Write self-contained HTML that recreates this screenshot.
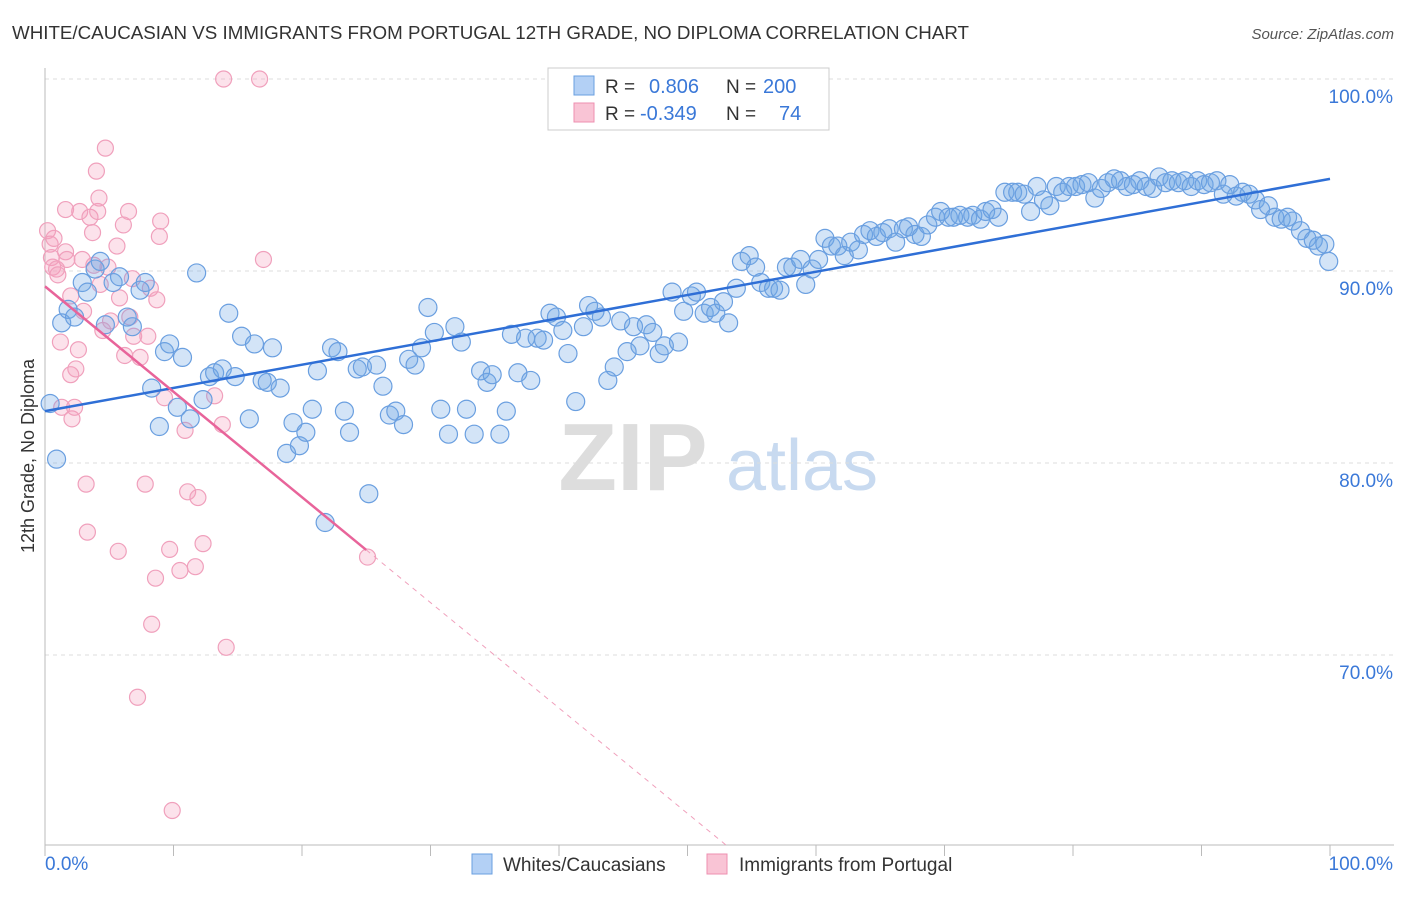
<!DOCTYPE html>
<html><head><meta charset="utf-8"><style>
body{margin:0;background:#fff;font-family:"Liberation Sans",sans-serif;}
svg text{font-family:"Liberation Sans",sans-serif;}
</style></head><body>
<svg id="chart" width="1406" height="892" xmlns="http://www.w3.org/2000/svg">
<text x="12" y="39" font-size="18" fill="#333" textLength="957" lengthAdjust="spacingAndGlyphs">WHITE/CAUCASIAN VS IMMIGRANTS FROM PORTUGAL 12TH GRADE, NO DIPLOMA CORRELATION CHART</text>
<text x="1394" y="39" font-size="15" fill="#555" text-anchor="end" font-style="italic">Source: ZipAtlas.com</text>
<text transform="translate(34,456) rotate(-90)" font-size="18" fill="#333" text-anchor="middle">12th Grade, No Diploma</text>
<g>
<text x="633" y="490" font-size="96" fill="#ddd" text-anchor="middle" font-family="Liberation Serif" font-weight="bold">ZIP</text>
<text x="802" y="490" font-size="72" fill="#c8daf0" text-anchor="middle">atlas</text>
</g>
<g id="grid"></g><g id="axes"></g><g id="pts"></g><g id="trend"></g>
<g>
<rect x="548" y="68" width="281" height="62" fill="#fff" stroke="#ccc"/>
<rect x="574" y="76" width="20" height="19" fill="#b3d0f5" stroke="#6a9fe0"/>
<rect x="574" y="103" width="20" height="19" fill="#f9c4d5" stroke="#ee8fb0"/>
<text x="605" y="93" font-size="19" fill="#333">R = </text><text x="649" y="93" font-size="20" fill="#3a78d8">0.806</text>
<text x="726" y="93" font-size="19" fill="#333">N = </text><text x="763" y="93" font-size="20" fill="#3a78d8">200</text>
<text x="605" y="120" font-size="19" fill="#333">R = </text><text x="640" y="120" font-size="20" fill="#3a78d8">-0.349</text>
<text x="726" y="120" font-size="19" fill="#333">N = </text><text x="779" y="120" font-size="20" fill="#3a78d8">74</text>
</g>
<g>
<rect x="472" y="854" width="20" height="20" fill="#b3d0f5" stroke="#6a9fe0"/>
<text x="503" y="871" font-size="19" fill="#333">Whites/Caucasians</text>
<rect x="707" y="854" width="20" height="20" fill="#f9c4d5" stroke="#ee8fb0"/>
<text x="739" y="871" font-size="19" fill="#333">Immigrants from Portugal</text>
</g>
</svg>
<script>
const blueX=[0.4,0.9,1.3,1.8,2.3,2.9,3.3,3.9,4.3,4.7,5.3,5.8,6.4,6.8,7.4,7.8,8.3,8.9,9.3,9.7,10.3,10.7,11.3,11.8,12.3,12.8,13.2,13.8,14.3,14.8,15.3,15.9,16.3,16.9,17.3,17.7,18.3,18.8,19.3,19.8,20.3,20.8,21.2,21.8,22.3,22.8,23.3,23.7,24.3,24.7,25.2,25.8,26.3,26.8,27.3,27.9,28.3,28.8,29.3,29.8,30.3,30.8,31.4,31.9,32.4,32.8,33.4,33.9,34.4,34.8,35.4,35.9,36.3,36.8,37.4,37.8,38.3,38.8,39.3,39.8,40.3,40.7,41.3,41.9,42.3,42.8,43.3,43.8,44.3,44.8,45.3,45.8,46.3,46.8,47.3,47.8,48.2,48.8,49.3,49.7,50.3,50.7,51.3,51.8,52.2,52.8,53.2,53.8,54.2,54.8,55.3,55.7,56.3,56.7,57.2,57.7,58.2,58.8,59.2,59.7,60.2,60.7,61.2,61.7,62.2,62.7,63.3,63.7,64.2,64.7,65.2,65.7,66.2,66.8,67.2,67.7,68.2,68.7,69.3,69.7,70.3,70.7,71.2,71.8,72.2,72.8,73.2,73.7,74.2,74.7,75.3,75.7,76.2,76.7,77.2,77.7,78.2,78.7,79.2,79.7,80.2,80.7,81.2,81.7,82.2,82.7,83.2,83.7,84.2,84.7,85.2,85.7,86.2,86.7,87.2,87.7,88.2,88.7,89.2,89.7,90.2,90.7,91.2,91.7,92.2,92.7,93.2,93.7,94.2,94.6,95.2,95.7,96.2,96.7,97.1,97.7,98.2,98.7,99.1,99.6,99.9];
const blueY=[83.1,80.2,87.3,88.0,87.6,89.4,88.9,90.1,90.5,87.2,89.4,89.7,87.6,87.1,89.0,89.4,83.9,81.9,85.8,86.2,82.9,85.5,82.3,89.9,83.3,84.5,84.7,84.9,87.8,84.5,86.6,82.3,86.2,84.3,84.2,86.0,83.9,80.5,82.1,80.9,81.6,82.8,84.8,76.9,86.0,85.8,82.7,81.6,84.9,85.0,78.4,85.1,84.0,82.5,82.7,82.0,85.4,85.1,86.0,88.1,86.8,82.8,81.5,87.1,86.3,82.8,81.5,84.8,84.2,84.6,81.5,82.7,86.7,84.7,86.5,84.3,86.5,86.4,87.8,87.6,86.9,85.7,83.2,87.1,88.2,87.9,87.6,84.3,85.0,87.4,85.8,87.1,86.1,87.2,86.8,85.7,86.1,88.9,86.3,87.9,88.7,88.9,87.8,88.1,87.8,88.4,87.3,89.1,90.5,90.8,90.2,89.4,89.1,89.1,89.0,90.2,90.2,90.6,89.3,90.1,90.6,91.7,91.3,91.3,90.8,91.5,91.1,91.9,92.1,91.8,92.0,92.2,91.5,92.2,92.3,91.9,91.8,92.4,92.8,93.1,92.8,92.8,92.9,92.8,92.9,92.7,93.1,93.2,92.8,94.1,94.1,94.1,94.0,93.1,94.4,93.7,93.4,94.4,94.1,94.4,94.4,94.5,94.6,93.8,94.3,94.6,94.8,94.7,94.4,94.5,94.7,94.4,94.3,94.9,94.6,94.7,94.6,94.7,94.4,94.7,94.5,94.6,94.7,94.0,94.5,93.9,94.1,94.0,93.7,93.2,93.4,92.8,92.7,92.8,92.6,92.1,91.7,91.6,91.3,91.4,90.5];
const pinkX=[0.2,0.4,0.5,0.6,0.9,0.7,1.0,1.2,1.3,1.6,1.6,1.7,2.0,2.0,2.1,2.3,2.4,2.6,2.7,2.9,3.0,3.2,3.3,3.5,3.7,3.8,4.0,4.1,4.2,4.3,4.5,4.7,4.9,5.1,5.6,5.7,5.8,6.1,6.2,6.5,6.6,6.8,6.9,7.2,7.4,7.8,8.0,8.2,8.3,8.6,8.7,8.9,9.0,9.3,9.7,9.9,10.5,10.9,11.1,11.7,11.9,12.3,13.2,13.8,13.9,14.1,16.7,17.0,25.1];
const pinkY=[92.1,91.4,90.7,90.2,90.1,91.7,89.8,86.3,82.9,93.2,91.0,90.6,88.7,84.6,82.3,82.9,84.9,85.9,93.1,90.6,87.9,78.9,76.4,92.8,92.0,90.3,95.2,93.1,93.8,89.3,86.9,96.4,90.2,87.4,91.3,75.4,88.6,92.4,85.6,93.1,87.6,89.6,86.6,67.8,85.5,78.9,86.6,89.1,71.6,74.0,88.5,91.8,92.6,83.4,75.5,61.9,74.4,81.7,78.5,74.6,78.2,75.8,83.5,82.0,100,70.4,100,90.6,75.1];
const yTicks=[100,90,80,70];
const yTickLabels=["100.0%","90.0%","80.0%","70.0%"];
const blueTrend=[82.7,94.8];
const pinkTrend=[89.2,60.1];
const pinkSolidEnd=25;const pinkDashEnd=53;

const X0=45,X1=1330,Y100=79,PPP=19.2;
const sx=v=>X0+(X1-X0)*v/100;
const sy=v=>Y100+(100-v)*PPP;
const NS="http://www.w3.org/2000/svg";
function mk(t,a,p){const e=document.createElementNS(NS,t);for(const k in a)e.setAttribute(k,a[k]);p.appendChild(e);return e;}
const grid=document.getElementById('grid'),axes=document.getElementById('axes'),pts=document.getElementById('pts'),tr=document.getElementById('trend');
yTicks.forEach((t,i)=>{
 const l=mk('line',{x1:X0,x2:1394,y1:sy(t),y2:sy(t),stroke:'#ddd','stroke-dasharray':'4,4'},grid);
 
 
 const tx=mk('text',{x:1393,y:sy(t)+24,'font-size':19,fill:'#3a78d8','text-anchor':'end'},grid);
 tx.textContent=yTickLabels[i];
 
 
});
const ax=mk('path',{d:`M${X0},68V845H1394`,stroke:'#bbb',fill:'none'},axes);


for(let i=0;i<=10;i++){const t=mk('line',{x1:sx(i*10),x2:sx(i*10),y1:845,y2:856,stroke:'#bbb'},axes);
 
 }
const xl=mk('text',{x:45,y:870,'font-size':19,fill:'#3a78d8'},axes);xl.textContent='0.0%';


const xr=mk('text',{x:1393,y:870,'font-size':19,fill:'#3a78d8','text-anchor':'end'},axes);xr.textContent='100.0%';


pinkX.forEach((x,i)=>{const c=mk('circle',{cx:sx(x),cy:sy(pinkY[i]),r:8,fill:'rgba(244,160,190,0.3)',stroke:'#f0a0bc','stroke-width':1.2},pts);
 
 });
blueX.forEach((x,i)=>{const c=mk('circle',{cx:sx(x),cy:sy(blueY[i]),r:9,fill:'rgba(110,165,230,0.3)',stroke:'#6a9fe0','stroke-width':1.2},pts);
 
 });
const bl=mk('line',{x1:sx(0),y1:sy(blueTrend[0]),x2:sx(100),y2:sy(blueTrend[1]),stroke:'#2f6fd6','stroke-width':2.5},tr);


const pf=v=>pinkTrend[0]+(pinkTrend[1]-pinkTrend[0])*v/pinkDashEnd;
const pl=mk('line',{x1:sx(0),y1:sy(pinkTrend[0]),x2:sx(pinkSolidEnd),y2:sy(pf(pinkSolidEnd)),stroke:'#e8649a','stroke-width':2.5},tr);


const pd=mk('line',{x1:sx(pinkSolidEnd),y1:sy(pf(pinkSolidEnd)),x2:sx(pinkDashEnd),y2:sy(pinkTrend[1]),stroke:'#f0a0bc','stroke-width':1,'stroke-dasharray':'5,5'},tr);


</script>
</body></html>
